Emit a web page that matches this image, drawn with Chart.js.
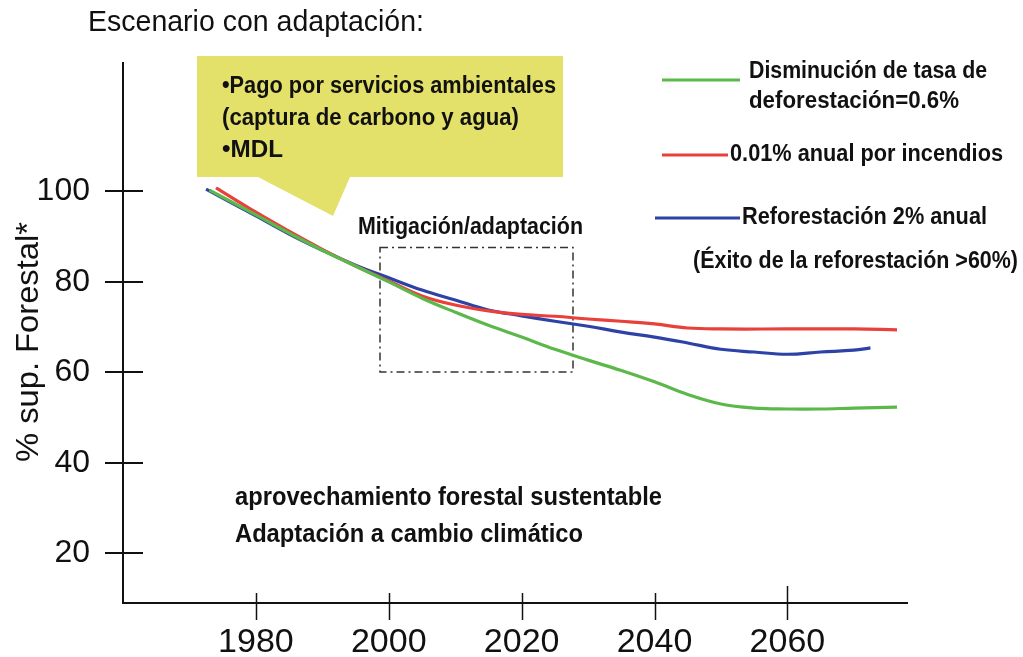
<!DOCTYPE html>
<html>
<head>
<meta charset="utf-8">
<script src="https://cdn.jsdelivr.net/npm/chart.js@4.4.1/dist/chart.umd.min.js"></script>
<style>
  html, body { margin: 0; padding: 0; background: #ffffff; }
  canvas { display: block; }
</style>
</head>
<body>
<canvas id="c" width="1023" height="657"></canvas>
<script>
// Forest cover scenarios (% of forest surface) by year
const greenYears = [1973, 1980, 1985, 1990, 1995, 2000, 2005, 2010, 2015, 2020, 2025, 2030, 2035, 2040, 2045, 2050, 2055, 2060, 2065, 2070, 2076.5];
const greenValues = [100.3, 94.8, 90.8, 87.0, 83.5, 80.0, 76.4, 73.3, 70.4, 67.8, 65.1, 62.7, 60.4, 57.9, 55.1, 53.0, 52.1, 51.9, 51.9, 52.1, 52.3];

const redYears = [1974, 1980, 1985, 1990, 1995, 2000, 2005, 2010, 2015, 2020, 2025, 2030, 2035, 2040, 2045, 2050, 2060, 2070, 2076.5];
const redValues = [100.8, 95.4, 91.2, 87.2, 83.5, 80.2, 76.9, 74.9, 73.6, 72.8, 72.4, 71.8, 71.3, 70.7, 69.8, 69.6, 69.6, 69.6, 69.4];

const blueYears = [1972.5, 1980, 1985, 1990, 1995, 2000, 2005, 2010, 2015, 2020, 2025, 2030, 2035, 2040, 2045, 2050, 2055, 2060, 2065, 2070, 2072.5];
const blueValues = [100.5, 94.6, 90.6, 87.0, 83.7, 80.9, 78.2, 76.0, 73.8, 72.5, 71.3, 70.2, 68.9, 67.8, 66.5, 65.1, 64.5, 64.0, 64.5, 64.9, 65.4];

const xTickValues = [1980, 2000, 2020, 2040, 2060];
const yTickValues = [20, 40, 60, 80, 100];

const seriesNames = ['Disminución de tasa de deforestación=0.6%', '0.01% anual por incendios', 'Reforestación 2% anual'];
const GREEN = '#5cb84a', RED = '#e8403a', BLUE = '#2d42a6';

const FONT = "'Liberation Sans', Arial, sans-serif";

const toPoints = (xs, ys) => xs.map((x, i) => ({ x: x, y: ys[i] }));

// Draw text squeezed/stretched horizontally to a given width
function fitText(ctx, text, x, y, font, width) {
  ctx.font = font;
  const w = ctx.measureText(text).width;
  const s = width / w;
  ctx.save();
  ctx.translate(x, y);
  ctx.scale(s, 1);
  ctx.fillText(text, 0, 0);
  ctx.restore();
}

const decorations = {
  id: 'decorations',
  beforeDatasetsDraw(chart) {
    const ctx = chart.ctx;
    ctx.save();
    // yellow speech callout
    ctx.fillStyle = '#e3e16a';
    ctx.beginPath();
    ctx.moveTo(197, 56);
    ctx.lineTo(563, 56);
    ctx.lineTo(563, 177);
    ctx.lineTo(350, 177);
    ctx.lineTo(333, 216);
    ctx.lineTo(258, 177);
    ctx.lineTo(197, 177);
    ctx.closePath();
    ctx.fill();

    // dash-dot window around the mitigation period
    ctx.strokeStyle = '#333';
    ctx.lineWidth = 1.5;
    ctx.setLineDash([8, 4, 2, 4]);
    ctx.strokeRect(380, 247.5, 193, 124.5);
    ctx.setLineDash([]);

    // cross-shaped tick marks on both axes
    const xs = chart.scales.x, ys = chart.scales.y;
    ctx.strokeStyle = '#111';
    ctx.lineWidth = 2;
    yTickValues.forEach(v => {
      const py = Math.round(ys.getPixelForValue(v));
      ctx.beginPath();
      ctx.moveTo(105, py);
      ctx.lineTo(143, py);
      ctx.stroke();
    });
    xTickValues.forEach(v => {
      const px = Math.round(xs.getPixelForValue(v)) + 0.5;
      ctx.lineWidth = 1.5;
      ctx.beginPath();
      ctx.moveTo(px, v === 2060 ? 586 : 593);
      ctx.lineTo(px, 620);
      ctx.stroke();
    });

    // axis title, rotated along the y axis
    ctx.fillStyle = '#111';
    ctx.textBaseline = 'middle';
    ctx.textAlign = 'left';
    ctx.save();
    ctx.translate(29, 462);
    ctx.rotate(-Math.PI / 2);
    fitText(ctx, '% sup. Forestal*', 0, 0, "32px " + FONT, 240);
    ctx.restore();

    // text annotations
    fitText(ctx, 'Escenario con adaptación:', 88, 23, "30px " + FONT, 336);

    const bold = "bold 23px " + FONT;
    fitText(ctx, '•Pago por servicios ambientales', 222, 87, bold, 334);
    fitText(ctx, '(captura de carbono y agua)', 222, 119, bold, 297);
    fitText(ctx, '•MDL', 222, 151, bold, 61);
    fitText(ctx, 'Mitigación/adaptación', 358, 228, bold, 225);

    fitText(ctx, 'Disminución de tasa de', 749, 72, bold, 238);
    fitText(ctx, 'deforestación=0.6%', 749, 102, bold, 210);
    fitText(ctx, '0.01% anual por incendios', 730, 155, bold, 273);
    fitText(ctx, 'Reforestación 2% anual', 742, 218, bold, 245);
    fitText(ctx, '(Éxito de la reforestación >60%)', 693, 262, bold, 325);

    const bold2 = "bold 25px " + FONT;
    fitText(ctx, 'aprovechamiento forestal sustentable', 235, 498, bold2, 427);
    fitText(ctx, 'Adaptación a cambio climático', 235, 535, bold2, 348);

    // legend swatches
    ctx.lineWidth = 3;
    [[GREEN, 662, 740, 80], [RED, 662, 728, 155], [BLUE, 655, 740, 218]].forEach(([c, x1, x2, y]) => {
      ctx.strokeStyle = c;
      ctx.beginPath();
      ctx.moveTo(x1, y);
      ctx.lineTo(x2, y);
      ctx.stroke();
    });
    ctx.restore();
  }
};

const lineStyle = (color) => ({
  borderColor: color,
  backgroundColor: color,
  borderWidth: 3.2,
  pointRadius: 0,
  fill: false,
  tension: 0.4
});

new Chart(document.getElementById('c'), {
  type: 'line',
  data: {
    datasets: [
      Object.assign({ label: seriesNames[0], data: toPoints(greenYears, greenValues) }, lineStyle(GREEN)),
      Object.assign({ label: seriesNames[1], data: toPoints(redYears, redValues) }, lineStyle(RED)),
      Object.assign({ label: seriesNames[2], data: toPoints(blueYears, blueValues) }, lineStyle(BLUE))
    ]
  },
  options: {
    responsive: false,
    animation: false,
    events: [],
    layout: { padding: { top: 63, right: 116, bottom: 0, left: 0 } },
    plugins: { legend: { display: false }, tooltip: { enabled: false }, title: { display: false } },
    scales: {
      x: {
        type: 'linear',
        min: 1960,
        max: 2078,
        afterBuildTicks(scale) { scale.ticks = xTickValues.map(v => ({ value: v })); },
        afterFit(scale) { scale.height = 54; },
        grid: { display: false, drawTicks: false, tickLength: 0 },
        border: { display: true, color: '#111', width: 2 },
        ticks: {
          color: '#111',
          padding: 19,
          font: { family: FONT, size: 34 },
          maxRotation: 0,
          autoSkip: false,
          callback: (v) => String(v)
        }
      },
      y: {
        type: 'linear',
        min: 9,
        max: 128.4,
        afterBuildTicks(scale) { scale.ticks = yTickValues.map(v => ({ value: v })); },
        afterFit(scale) { scale.width = 123; },
        grid: { display: false, drawTicks: false, tickLength: 0 },
        border: { display: true, color: '#111', width: 2 },
        ticks: {
          color: '#111',
          padding: 33,
          font: { family: FONT, size: 32 },
          autoSkip: false,
          callback: (v) => String(v)
        }
      }
    }
  },
  plugins: [decorations]
});
</script>
</body>
</html>
